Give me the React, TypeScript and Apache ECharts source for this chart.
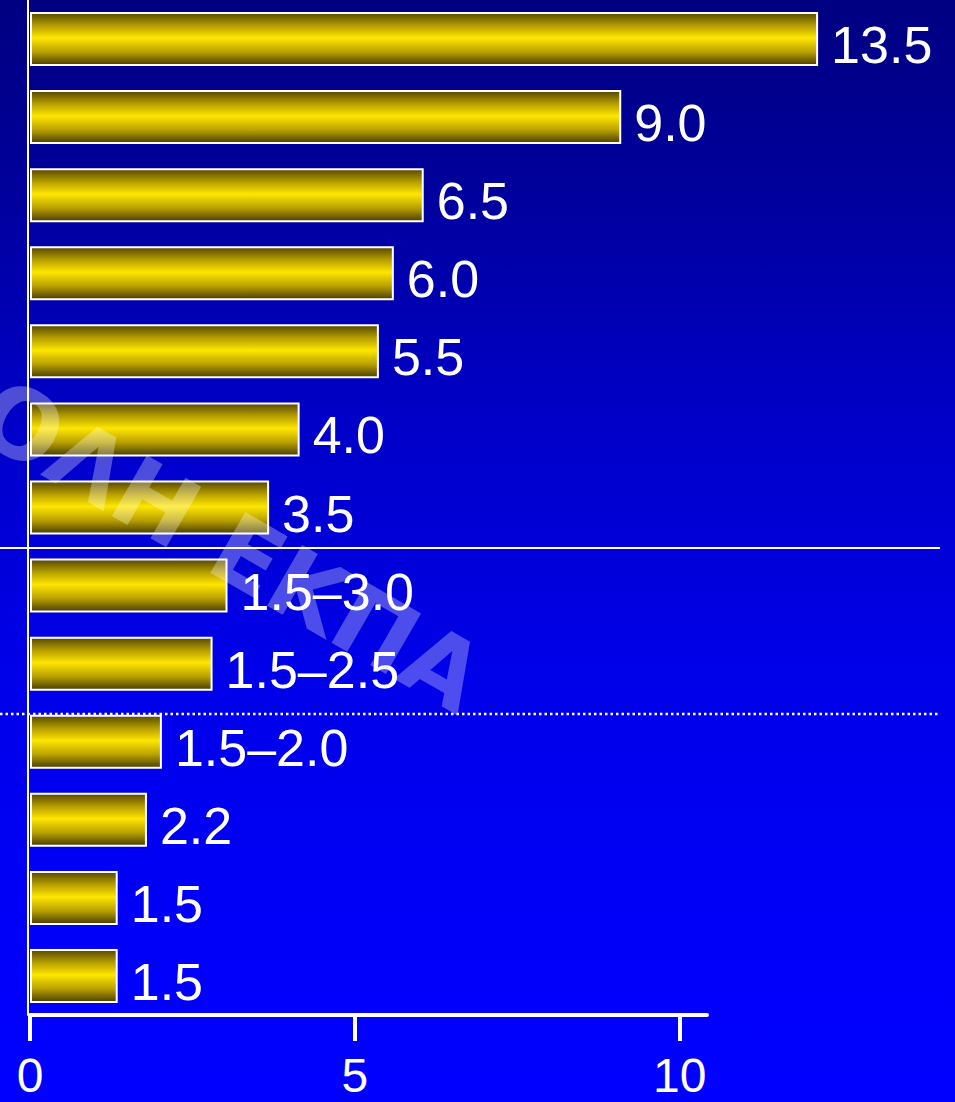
import React, { useEffect, useRef } from "react";
import * as echarts from "echarts";

// Row identifiers (the y axis shows no text)
const rows = ["r1", "r2", "r3", "r4", "r5", "r6", "r7", "r8", "r9", "r10", "r11", "r12", "r13"];
// Bar lengths as drawn in the picture
const barValues = [12.13, 9.1, 6.06, 5.6, 5.37, 4.15, 3.68, 3.04, 2.81, 2.03, 1.8, 1.35, 1.35];
// Text shown next to each bar
const valueLabels = ["13.5", "9.0", "6.5", "6.0", "5.5", "4.0", "3.5", "1.5–3.0", "1.5–2.5", "1.5–2.0", "2.2", "1.5", "1.5"];
// X axis ticks
const xTicks = [0, 5, 10];
const xMax = 10.42;
const watermarkText = "ΟΛΗ ΕΚΠΑ";

const FONT = "'Liberation Sans', Arial, Helvetica, sans-serif";

export default function App() {
  const ref = useRef<HTMLDivElement>(null);

  useEffect(() => {
    if (!ref.current) return;
    const chart = echarts.init(ref.current, undefined, { renderer: "svg" });
    const barFill = new echarts.graphic.LinearGradient(0, 0, 0, 1, [
      { offset: 0, color: "#574800" },
      { offset: 0.25, color: "#b8a000" },
      { offset: 0.48, color: "#ffe600" },
      { offset: 0.75, color: "#b8a000" },
      { offset: 1, color: "#4a3e00" },
    ]);
    chart.setOption({
      animation: false,
      backgroundColor: "transparent",
      grid: { left: 30, right: 248, top: 0, bottom: 87, containLabel: false },
      xAxis: {
        type: "value",
        min: 0,
        max: xMax,
        axisLine: { show: true, lineStyle: { color: "#ffffff", width: 4 } },
        axisTick: {
          show: true,
          customValues: xTicks,
          length: 26,
          lineStyle: { color: "#ffffff", width: 4 },
        },
        axisLabel: {
          customValues: xTicks,
          color: "#ffffff",
          fontSize: 48,
          fontFamily: FONT,
          margin: 36,
        },
        splitLine: { show: false },
      },
      yAxis: {
        type: "category",
        data: rows,
        inverse: true,
        offset: 2,
        axisLine: { show: true, onZero: false, lineStyle: { color: "#ffffff", width: 2 } },
        axisTick: { show: false },
        axisLabel: { show: false },
        splitLine: { show: false },
      },
      series: [
        {
          type: "bar",
          data: barValues,
          barWidth: 54,
          clip: false,
          itemStyle: {
            color: barFill,
            borderColor: "#ffffff",
            borderWidth: 2,
          },
          label: {
            show: true,
            position: "right",
            distance: 13,
            offset: [0, 6],
            color: "#ffffff",
            fontSize: 52,
            fontFamily: FONT,
            formatter: (p: any) => valueLabels[p.dataIndex],
          },
        },
      ],
      graphic: [
        {
          type: "line",
          silent: true,
          z: 50,
          shape: { x1: 0, y1: 548, x2: 940, y2: 548 },
          style: { stroke: "#ffffff", lineWidth: 2 },
        },
        {
          type: "line",
          silent: true,
          z: 50,
          shape: { x1: 0, y1: 714, x2: 940, y2: 714 },
          style: { stroke: "#ffffff", lineWidth: 2.5, lineDash: [2.5, 3] },
        },
        {
          type: "text",
          silent: true,
          z: 100,
          x: 230,
          y: 546,
          rotation: (-30 * Math.PI) / 180,
          style: {
            text: watermarkText,
            fill: "rgba(255,255,255,0.3)",
            font: "bold 96px 'DejaVu Sans', sans-serif",
            align: "center",
            verticalAlign: "middle",
          },
        },
      ],
    });
    return () => chart.dispose();
  }, []);

  return (
    <div
      style={{
        position: "absolute",
        left: 0,
        top: 0,
        width: 955,
        height: 1102,
        background:
          "linear-gradient(to bottom, #000082 0%, #000098 15%, #0000c8 38%, #0000e8 60%, #0000fa 85%, #0000ff 100%)",
      }}
    >
      <div ref={ref} style={{ width: 955, height: 1102 }} />
    </div>
  );
}
